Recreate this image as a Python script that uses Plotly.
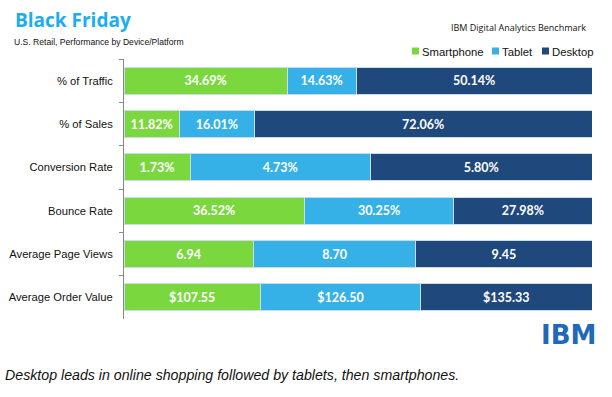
import plotly.graph_objects as go

categories = ["% of Traffic", "% of Sales", "Conversion Rate", "Bounce Rate",
              "Average Page Views", "Average Order Value"]
series_names = ["Smartphone", "Tablet", "Desktop"]
smartphone = [34.69, 11.82, 1.73, 36.52, 6.94, 107.55]
tablet = [14.63, 16.01, 4.73, 30.25, 8.70, 126.50]
desktop = [50.14, 72.06, 5.80, 27.98, 9.45, 135.33]
smartphone_labels = ["34.69%", "11.82%", "1.73%", "36.52%", "6.94", "$107.55"]
tablet_labels = ["14.63%", "16.01%", "4.73%", "30.25%", "8.70", "$126.50"]
desktop_labels = ["50.14%", "72.06%", "5.80%", "27.98%", "9.45", "$135.33"]
colors = ["#7AD83E", "#35B1E8", "#1F487C"]

totals = [a + b + c for a, b, c in zip(smartphone, tablet, desktop)]
series_vals = [smartphone, tablet, desktop]
series_labels = [smartphone_labels, tablet_labels, desktop_labels]

PL, PT, PW, PH = 124, 59, 468, 260  # plot area in px

fig = go.Figure()
for name, vals, labs, col in zip(series_names, series_vals, series_labels, colors):
    share = [v / t * 100 for v, t in zip(vals, totals)]
    fig.add_trace(go.Bar(
        y=categories, x=share, name=name, orientation="h",
        marker=dict(color=col, line=dict(color="#C8DCEC", width=1)),
        text=labs, textposition="inside", insidetextanchor="middle",
        textangle=0, constraintext="none",
        textfont=dict(color="white", size=12.5, family="Lato", weight="bold"),
        hoverinfo="skip", showlegend=False,
    ))

fig.update_layout(
    width=612, height=397,
    barmode="stack", bargap=0.37,
    paper_bgcolor="white", plot_bgcolor="white",
    margin=dict(l=PL, r=612 - PL - PW, t=PT, b=397 - PT - PH, autoexpand=False),
    showlegend=False,
    xaxis=dict(range=[0, 100], showgrid=False, zeroline=False, showticklabels=False,
               showline=False, fixedrange=True, automargin=False),
    yaxis=dict(autorange="reversed", showgrid=False, zeroline=False, automargin=False,
               showline=True, linecolor="#888888", linewidth=1,
               ticks="outside", tickson="boundaries", ticklen=4, tickcolor="#888888",
               tickfont=dict(family="Liberation Sans", size=11.2, color="#111"),
               ticklabelstandoff=8, fixedrange=True),
    font=dict(family="Liberation Sans"),
)

def px_x(px):
    return (px - PL) / PW

def px_y(py):
    return 1 - (py - PT) / PH

fig.add_annotation(text="<b>Black Friday</b>", xref="paper", yref="paper",
                   x=px_x(13), y=px_y(20), xanchor="left", yanchor="middle",
                   showarrow=False,
                   font=dict(family="Open Sans", size=19, color="#1AAEEE"))
fig.add_annotation(text="U.S. Retail, Performance by Device/Platform", xref="paper", yref="paper",
                   x=px_x(12), y=px_y(42), xanchor="left", yanchor="middle",
                   showarrow=False,
                   font=dict(family="Liberation Sans", size=8.6, color="#111"))
fig.add_annotation(text="IBM Digital Analytics Benchmark", xref="paper", yref="paper",
                   x=px_x(588), y=px_y(27), xanchor="right", yanchor="middle",
                   showarrow=False,
                   font=dict(family="Open Sans", size=9, color="#111"))

# legend: colour squares + labels
legend_sq = [412, 492, 542]
for name, col, lx in zip(series_names, colors, legend_sq):
    fig.add_shape(type="rect", xref="paper", yref="paper",
                  x0=px_x(lx), x1=px_x(lx + 7), y0=px_y(54.5), y1=px_y(47.5),
                  fillcolor=col, line=dict(width=0))
    fig.add_annotation(
        text=name, xref="paper", yref="paper",
        x=px_x(lx + 8), y=px_y(51.5), xanchor="left", yanchor="middle", showarrow=False,
        font=dict(family="Liberation Sans", size=11.3, color="#111"))

fig.add_annotation(text="<i>Desktop leads in online shopping followed by tablets, then smartphones.</i>",
                   xref="paper", yref="paper", x=px_x(3), y=px_y(375),
                   xanchor="left", yanchor="middle", showarrow=False,
                   font=dict(family="Liberation Sans", size=14.2, color="#111"))
fig.add_annotation(text="<b>IBM</b>", xref="paper", yref="paper", x=px_x(598), y=px_y(335),
                   xanchor="right", yanchor="middle", showarrow=False,
                   font=dict(family="DejaVu Sans", size=26, color="#2268B8"))

fig.write_html("out.html", config={"displayModeBar": False, "staticPlot": True},
               post_script="document.body.style.margin='0';")
